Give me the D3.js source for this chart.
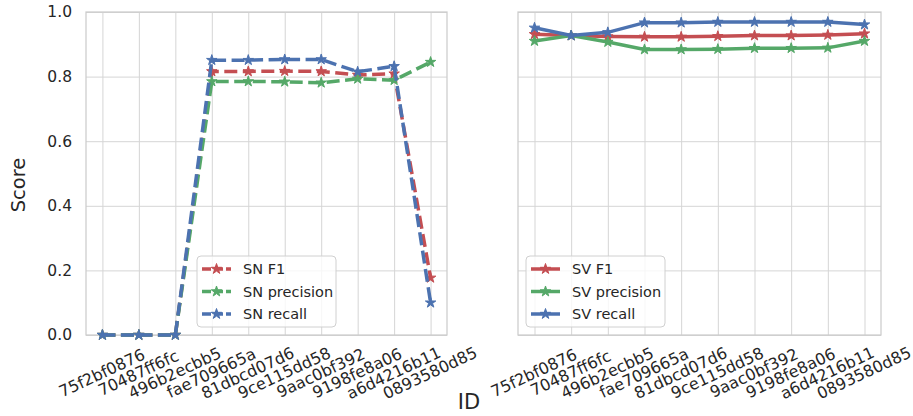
<!DOCTYPE html>
<html>
<head>
<meta charset="utf-8">
<script src="https://cdn.jsdelivr.net/npm/d3@7"></script>
<style>
  body { margin: 0; background: #fff; }
  text { font-family: "DejaVu Sans", sans-serif; fill: #262626; }
</style>
</head>
<body>
<div id="chart"></div>
<script>
// tick labels (x) and series
var ids = ["75f2bf0876", "70487ff6fc", "496b2ecbb5", "fae709665a", "81dbcd07d6",
           "9ce115dd58", "9aac0bf392", "9198fe8a06", "a6d4216b11", "0893580d85"];
var yTicks = [0, 0.2, 0.4, 0.6, 0.8, 1.0];

var snF1        = [0, 0, 0, 0.816, 0.816, 0.817, 0.816, 0.805, 0.809, 0.177];
var snPrecision = [0, 0, 0, 0.785, 0.785, 0.784, 0.781, 0.793, 0.789, 0.845];
var snRecall    = [0, 0, 0, 0.851, 0.851, 0.853, 0.853, 0.815, 0.832, 0.100];

var svF1        = [0.931, 0.927, 0.924, 0.923, 0.923, 0.925, 0.927, 0.927, 0.929, 0.933];
var svPrecision = [0.910, 0.927, 0.907, 0.884, 0.884, 0.885, 0.888, 0.888, 0.889, 0.910];
var svRecall    = [0.951, 0.927, 0.937, 0.967, 0.967, 0.969, 0.969, 0.969, 0.969, 0.961];

var red = "#C44E52", green = "#55A868", blue = "#4C72B0";

var width = 913, height = 416;
var plotTop = 12, plotBottom = 335;

var svg = d3.select("#chart").append("svg")
      .attr("width", width)
      .attr("height", height);

var y = d3.scaleLinear().domain([0, 1]).range([plotBottom, plotTop]);

function panel(x0, x1, series, dashed, showY, legendX) {
  var x = d3.scalePoint().domain(d3.range(ids.length)).range([x0, x1]).padding(0.45);
  var g = svg.append("g");

  // grid
  g.append("g")
    .attr("transform", "translate(0," + plotBottom + ")")
    .call(d3.axisBottom(x).tickSize(-(plotBottom - plotTop)).tickFormat(""))
    .call(function (a) {
      a.select(".domain").remove();
      a.selectAll("line").attr("stroke", "#d5d5d5").attr("stroke-width", 1);
    });
  g.append("g")
    .attr("transform", "translate(" + x0 + ",0)")
    .call(d3.axisLeft(y).tickValues(yTicks).tickSize(-(x1 - x0)).tickFormat(""))
    .call(function (a) {
      a.select(".domain").remove();
      a.selectAll("line").attr("stroke", "#d5d5d5").attr("stroke-width", 1);
    });

  g.append("rect")
    .attr("x", x0).attr("y", plotTop)
    .attr("width", x1 - x0).attr("height", plotBottom - plotTop)
    .attr("fill", "none").attr("stroke", "#cccccc").attr("stroke-width", 1.25);

  // x tick labels, rotated
  g.append("g")
    .attr("transform", "translate(0," + plotBottom + ")")
    .call(d3.axisBottom(x).tickSize(0).tickFormat(function (i) { return ids[i]; }))
    .call(function (a) {
      a.select(".domain").remove();
      a.selectAll("text")
        .attr("y", 0).attr("dy", null)
        .attr("dominant-baseline", "central")
        .attr("text-anchor", "middle")
        .attr("transform", "translate(-1,38) rotate(-25)")
        .style("font-size", "16px")
        .style("font-family", "DejaVu Sans")
        .attr("fill", "#333");
    });

  if (showY) {
    g.append("g")
      .attr("transform", "translate(" + x0 + ",0)")
      .call(d3.axisLeft(y).tickValues(yTicks).tickSize(0).tickPadding(14).tickFormat(d3.format(".1f")))
      .call(function (a) {
        a.select(".domain").remove();
        a.selectAll("text")
          .style("font-size", "15.5px")
          .style("font-family", "DejaVu Sans")
          .attr("fill", "#333");
      });
  }

  var line = d3.line().x(function (d, i) { return x(i); }).y(function (d) { return y(d); });
  var star = d3.symbol().type(d3.symbolStar).size(34);

  series.forEach(function (s) {
    g.append("path")
      .datum(s.values)
      .attr("d", line)
      .attr("fill", "none")
      .attr("stroke", s.color)
      .attr("stroke-width", 3.5)
      .attr("stroke-dasharray", dashed ? "13,5.5" : null);
    g.selectAll(null)
      .data(s.values)
      .enter()
      .append("path")
      .attr("d", star)
      .attr("transform", function (d, i) { return "translate(" + x(i) + "," + y(d) + ")"; })
      .attr("fill", s.color)
      .attr("stroke", s.color)
      .attr("stroke-width", 1);
  });

  // legend
  var lg = g.append("g").attr("transform", "translate(" + legendX + ",256)");
  lg.append("rect")
    .attr("width", 139).attr("height", 71).attr("rx", 4)
    .attr("fill", "#fff").attr("fill-opacity", 0.8)
    .attr("stroke", "#d0d0d0").attr("stroke-width", 1);
  series.forEach(function (s, i) {
    var yy = 13 + i * 22.5;
    lg.append("line")
      .attr("x1", 5).attr("x2", 34).attr("y1", yy).attr("y2", yy)
      .attr("stroke", s.color).attr("stroke-width", 3.5)
      .attr("stroke-dasharray", dashed ? "9,3" : null);
    lg.append("path")
      .attr("d", star)
      .attr("transform", "translate(19.5," + yy + ")")
      .attr("fill", s.color).attr("stroke", s.color);
    lg.append("text")
      .attr("x", 46).attr("y", yy)
      .attr("dominant-baseline", "central")
      .style("font-size", "14.5px")
      .text(s.label);
  });
}

panel(86, 447, [
  {label: "SN F1", values: snF1, color: red},
  {label: "SN precision", values: snPrecision, color: green},
  {label: "SN recall", values: snRecall, color: blue}
], true, true, 197);

panel(518, 881, [
  {label: "SV F1", values: svF1, color: red},
  {label: "SV precision", values: svPrecision, color: green},
  {label: "SV recall", values: svRecall, color: blue}
], false, false, 526);

// axis titles
svg.append("text")
  .attr("transform", "translate(25,185) rotate(-90)")
  .attr("text-anchor", "middle")
  .style("font-size", "19.5px")
  .text("Score");

svg.append("text")
  .attr("x", 469).attr("y", 409)
  .attr("text-anchor", "middle")
  .style("font-size", "21px")
  .text("ID");
</script>
</body>
</html>
